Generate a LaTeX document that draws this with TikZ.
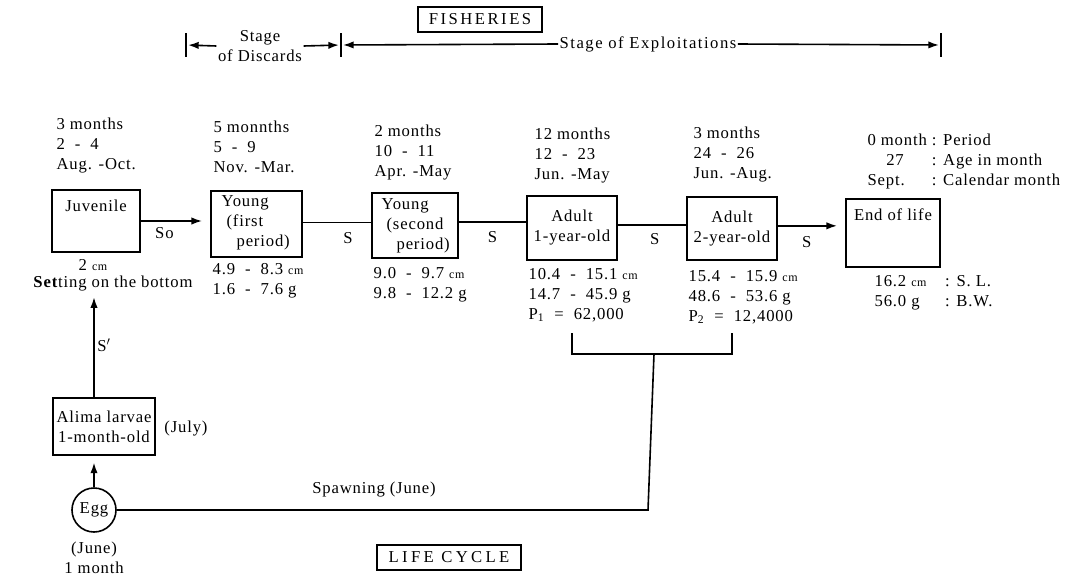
\documentclass[tikz,border=0pt]{standalone}
\usepackage{fontspec}
\setmainfont{Liberation Serif}[LetterSpace=5]
\usetikzlibrary{arrows.meta,positioning}
\begin{document}
\begin{tikzpicture}[x=0.75pt, y=-0.75pt,
                    every node/.style={font=\fontsize{12.5}{15}\selectfont,
                                       inner sep=1pt},
                    stagebox/.style={draw, line width=1.3pt, inner sep=0pt,
                                     align=center},
                    titlebox/.style={draw, line width=0.8pt, inner sep=0pt},
                    link/.style={line width=1.2pt},
                    arr/.style={line width=1.2pt, -{Latex[length=8pt,width=5.5pt]}},
                    bar/.style={line width=1.1pt}]
    \useasboundingbox (0,0) rectangle (1085,578);

    % titles
    \node[titlebox, minimum width=93pt, minimum height=18.75pt] (fisheries)
        at (480,19.5) {\addfontfeature{LetterSpace=15}FISHERIES};
    \node[titlebox, minimum width=108pt, minimum height=18.75pt] (lifecycle)
        at (449,557.5) {\addfontfeature{LetterSpace=20}LIFE CYCLE};

    % stages
    \coordinate (b1) at (186,45);
    \coordinate (b2) at (341,45);
    \coordinate (b3) at (941,45);
    \foreach \b in {b1,b2,b3}
        \draw[bar] ([yshift=9pt]\b) -- ([yshift=-9pt]\b);
    \node[align=center] (discards) at (260,46) {Stage\\of Discards};
    \node (exploit) at (648,44) {\addfontfeature{LetterSpace=9}Stage of Exploitations};
    \draw[arr, shorten >=1.5pt] (discards.west) -- (b1);
    \draw[arr, shorten >=1.5pt] (discards.east) -- (b2);
    \draw[arr, shorten >=1.5pt] (exploit.west) -- (b2);
    \draw[arr, shorten >=1.5pt] (exploit.east) -- (b3);

    % period, age, calendar month
    \node[anchor=west, align=left] (top-juv) at (55,146)
        {3 months\\2~ - ~4\\Aug. -Oct.};
    \node[anchor=west, align=left] (top-young1) at (212,147)
        {5 monnths\\5~ - ~9\\Nov. -Mar.};
    \node[anchor=west, align=left] (top-young2) at (373,153)
        {2 months\\10~ - ~11\\Apr. -May};
    \node[anchor=west, align=left] (top-adult1) at (533,156)
        {12 months\\12~ - ~23\\Jun. -May};
    \node[anchor=west, align=left] (top-adult2) at (692,155)
        {3 months\\24~ - ~26\\Jun. -Aug.};
    \node[anchor=west] (legend) at (866,161)
        {\begin{tabular}{@{}l@{\ }l@{}}
            0 month & : Period\\
            \hspace{14pt}27 & : Age in month\\
            Sept. & : Calendar month
         \end{tabular}};

    % stages of the life
    \node[stagebox, minimum width=66pt, minimum height=46.5pt] (juv) at (96,221) {};
    \node[below=7pt of juv.north] (juv-t) {Juvenile};
    \node[stagebox, minimum width=68.25pt, minimum height=49.5pt] (young1) at (256.5,224) {};
    \node[anchor=west, align=left] (young1-t) at (220,223)
        {Young\\~(first\\~~~period)};
    \node[stagebox, minimum width=64.5pt, minimum height=48.75pt] (young2) at (415,225.5) {};
    \node[anchor=west, align=left] (young2-t) at (380,226)
        {Young\\~(second\\~~~period)};
    \node[stagebox, minimum width=67.5pt, minimum height=48pt] (adult1) at (572,228)
        {Adult\\1-year-old};
    \node[stagebox, minimum width=67.5pt, minimum height=47.25pt] (adult2) at (732,228.5)
        {Adult\\2-year-old};
    \node[stagebox, minimum width=70.5pt, minimum height=51pt] (endlife) at (893,233) {};
    \node[below=7pt of endlife.north] (endlife-t) {End of life};
    \node[stagebox, minimum width=76.5pt, minimum height=42.75pt] (alima) at (104,426.5)
        {Alima larvae\\1-month-old};
    \node[draw, circle, line width=1.2pt, minimum size=33pt, inner sep=0pt] (egg)
        at (94,510) {Egg};

    % sizes and weights
    \node (juv-cm) at (93,265) {2 {\small cm}};
    \node (setting) at (113,284) {\textbf{Set}ting on the bottom};
    \node[anchor=west, align=left] (low-young1) at (211,280.5)
        {4.9~ - ~8.3 {\small cm}\\1.6~ - ~7.6 g};
    \node[anchor=west, align=left] (low-young2) at (372,284.5)
        {9.0~ - ~9.7 {\small cm}\\9.8~ - ~12.2 g};
    \node[anchor=west, align=left] (low-adult1) at (527,295)
        {10.4~ - ~15.1 {\small cm}\\14.7~ - ~45.9 g\\P\textsubscript{1}~ = ~62,000};
    \node[anchor=west, align=left] (low-adult2) at (687,297)
        {15.4~ - ~15.9 {\small cm}\\48.6~ - ~53.6 g\\P\textsubscript{2}~ = ~12,4000};
    \node[anchor=west] (low-end) at (873,292.5)
        {\begin{tabular}{@{}l@{\hspace{14pt}}l@{}}
            16.2 {\small cm} & : S. L.\\
            56.0 g & : B.W.
         \end{tabular}};
    \node (july) at (186,429) {(July)};
    \node[align=center] (june) at (94,558) {(June)\\1 month};

    % connectors
    \draw[arr, shorten >=6pt] (juv.east) -- (juv.east -| young1.west)
        node[pos=0.34, below=3pt] (so) {So};
    \draw[link] ([yshift=1pt]young1.east) -- ([yshift=1pt]young1.east -| young2.west)
        node[pos=0.66, below=6pt] (s1) {S};
    \draw[link] ([yshift=2.5pt]young2.east) -- ([yshift=2.5pt]young2.east -| adult1.west)
        node[pos=0.5, below=5pt] (s2) {S};
    \draw[link] ([yshift=2.25pt]adult1.east) -- ([yshift=2.25pt]adult1.east -| adult2.west)
        node[pos=0.54, below=5pt] (s3) {S};
    \draw[arr, shorten >=6pt] ([yshift=2pt]adult2.east) -- ([yshift=2pt]adult2.east -| endlife.west)
        node[pos=0.43, below=6pt] (s4) {S};
    \draw[arr, shorten >=3pt] (alima.north -| egg) -- (egg |- setting.south)
        node[pos=0.5, right=1pt] (sprime) {S$'$};
    \draw[arr, shorten >=5pt] (egg.north) -- (egg.north |- alima.south);

    % spawning
    \coordinate (brl) at (572,333);
    \coordinate (brr) at (732,333);
    \coordinate (brm) at (654,354);
    \coordinate (spawn) at (648,510);
    \draw[link] (brl) |- (brr |- brm) -- (brr);
    \draw[link] (brm) -- (spawn) -- (egg.east);
    \node (spawning) at (374,490) {Spawning (June)};
\end{tikzpicture}
\end{document}
